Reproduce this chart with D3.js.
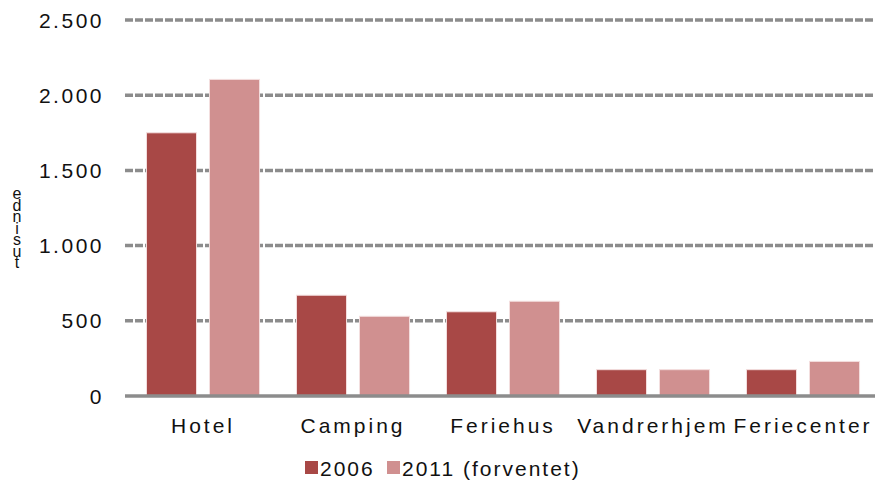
<!DOCTYPE html>
<html><head><meta charset="utf-8">
<script src="https://cdn.jsdelivr.net/npm/d3@7"></script>
<style>body{margin:0;background:#fff}svg{display:block}text{font-family:"Liberation Sans",Arial,sans-serif;fill:#111}</style>
</head><body><svg id="c" width="875" height="485"></svg>
<script>
const categories = ["Hotel","Camping","Feriehus","Vandrerhjem","Feriecenter"];
const seriesNames = ["2006","2011 (forventet)"];
const values2006 = [1750, 670, 560, 175, 175];
const values2011 = [2105, 530, 630, 175, 230];
const yTicks = [0,500,1000,1500,2000,2500];
const yTickLabels = ["0","500","1.000","1.500","2.000","2.500"];
const yLabel = "tusinde";
const colors = ["#A84846","#D09090"];

const svg = d3.select("#c");
const mLeft = 125, mRight = 875, mTop = 20, mBottom = 396;
const x = d3.scaleBand().domain(categories).range([mLeft+3,mRight+3]).paddingInner(0).paddingOuter(0);
const xs = d3.scaleBand().domain(seriesNames).range([0,x.bandwidth()]).paddingInner(0.206).paddingOuter(0.293);
const y = d3.scaleLinear().domain([0,2500]).range([mBottom,mTop]);

// gridlines
svg.append("g").selectAll("line").data(yTicks.filter(d=>d>0)).join("line")
  .attr("x1",mLeft).attr("x2",mRight).attr("y1",d=>y(d)).attr("y2",d=>y(d))
  .attr("stroke","#8c8c8c").attr("stroke-width",3.5).attr("stroke-dasharray","8,2");

// y tick labels
svg.append("g").selectAll("text").data(yTicks).join("text")
  .attr("x",104).attr("y",d=>y(d)+7.5).attr("text-anchor","end")
  .style("font-size","21px").style("letter-spacing","2.5px")
  .text((d,i)=>yTickLabels[i]);

// bars
const data = categories.map((c,i)=>({c, v:[values2006[i],values2011[i]]}));
const g = svg.append("g");
data.forEach(d=>{
  d.v.forEach((v,j)=>{
    g.append("rect").attr("x",x(d.c)+xs(seriesNames[j])).attr("width",xs.bandwidth())
      .attr("y",y(v)).attr("height",y(0)-y(v)).attr("fill",colors[j])
      .attr("stroke","#f3dede").attr("stroke-width",1);
  });
});

// x axis line
svg.append("line").attr("x1",mLeft).attr("x2",mRight).attr("y1",y(0)).attr("y2",y(0))
  .attr("stroke","#8c8c8c").attr("stroke-width",3.5);

// category labels
svg.append("g").selectAll("text").data(categories).join("text")
  .attr("x",d=>x(d)+x.bandwidth()/2).attr("y",433).attr("text-anchor","middle")
  .style("font-size","21px").style("letter-spacing","3px").text(d=>d);

// y label stacked letters (t at bottom, e at top)
const letters = yLabel.split("");
svg.append("g").selectAll("text").data(letters).join("text")
  .attr("x",17).attr("y",(d,i)=>268-i*11.5).attr("text-anchor","middle")
  .style("font-size","16px").text(d=>d);

// legend
const leg = svg.append("g");
const legX = [305, 387];
seriesNames.forEach((s,j)=>{
  leg.append("rect").attr("x",legX[j]).attr("y",461).attr("width",13).attr("height",13).attr("fill",colors[j]);
  leg.append("text").attr("x",legX[j]+15).attr("y",476).style("font-size","21px").style("letter-spacing","2px").text(s);
});
</script></body></html>
